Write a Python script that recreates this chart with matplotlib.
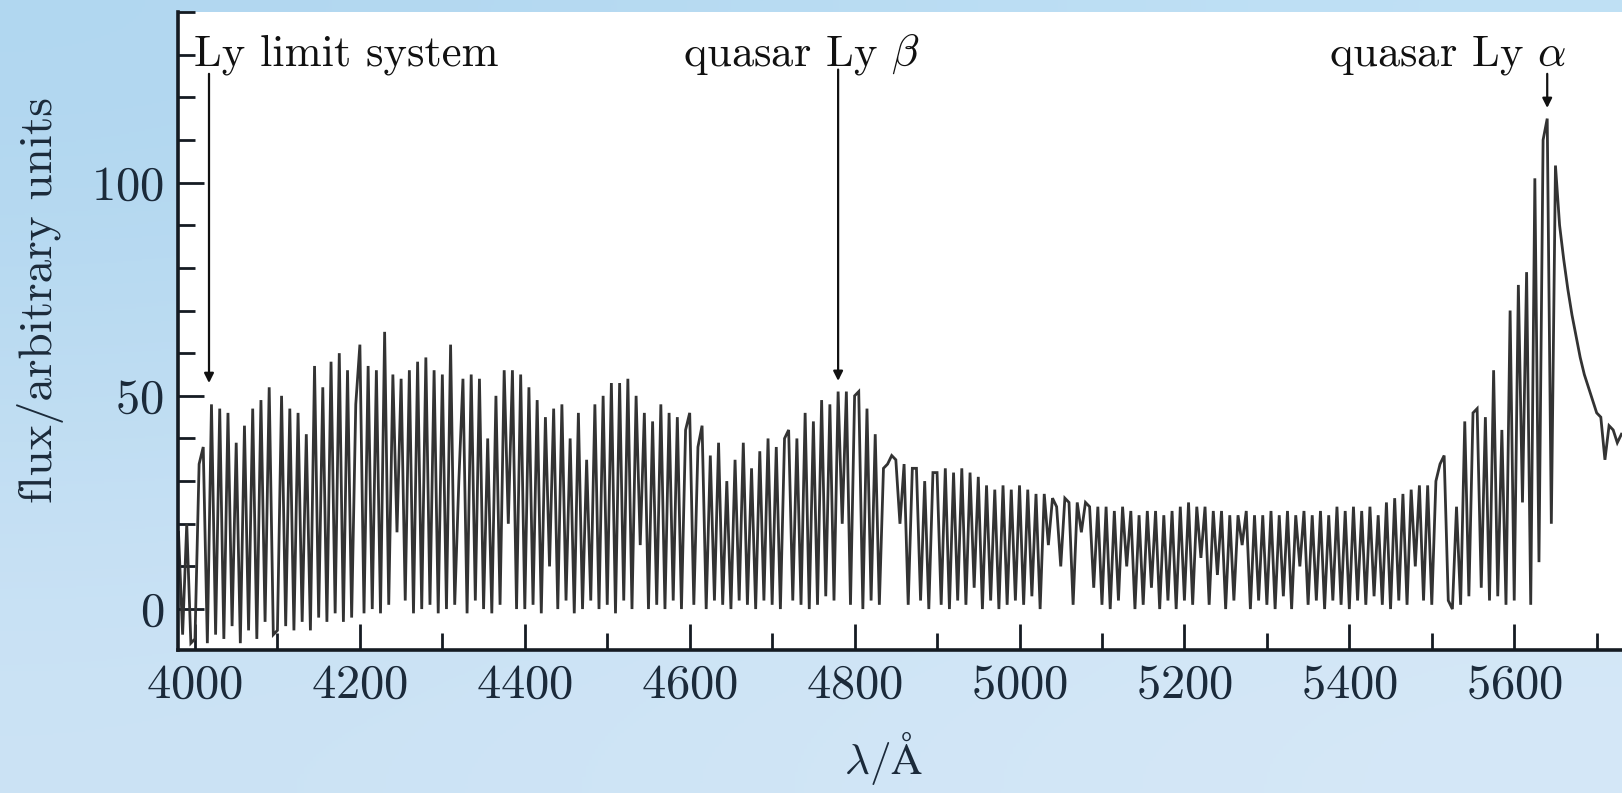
import numpy as np
import matplotlib
matplotlib.use("Agg")
import matplotlib.pyplot as plt
from matplotlib.ticker import MultipleLocator

plt.rcParams['font.family'] = ['cmr10', 'DejaVu Serif']
plt.rcParams['mathtext.fontset'] = 'cm'
plt.rcParams['axes.formatter.use_mathtext'] = True

wave_start = 3980
wave_step = 5
flux = [
    18, -6, 20, -8,                                                            # 3980-3995
    -7, 34, 38, -8, 48, -6, 47, -7, 46, -4, 39, -8, 43, -5, 47, -7, 49, -3, 52, -6,   # 4000
    -5, 50, -4, 47, -5, 46, -3, 41, -5, 57, -2, 52, -3, 58, -1, 60, -3, 56, -2, 48,   # 4100
    62, -1, 57, 0, 56, -1, 65, 1, 55, 18, 54, 2, 56, -1, 58, 0, 59, 1, 56, -1,       # 4200
    55, 0, 62, 1, 30, 54, -1, 55, 2, 54, 0, 40, -1, 50, 1, 56, 20, 56, 0, 55,        # 4300
    0, 52, 1, 49, -1, 45, 10, 47, 0, 48, 2, 40, -1, 46, 0, 35, 2, 48, 0, 50,         # 4400
    1, 53, -1, 53, 2, 54, 0, 50, 15, 46, 0, 44, 1, 48, 0, 46, 2, 45, 0, 42,          # 4500
    46, 1, 38, 43, 0, 36, 2, 39, 1, 30, 0, 35, 2, 39, 1, 33, 0, 37, 2, 40,           # 4600
    1, 38, 0, 40, 42, 2, 40, 1, 46, 0, 44, 1, 49, 3, 48, 2, 51, 20, 51, 1,           # 4700
    50, 51, 0, 47, 2, 41, 1, 33, 34, 36, 35, 20, 34, 1, 33, 33, 2, 30, 0, 32,        # 4800
    32, 1, 33, 0, 32, 2, 33, 1, 32, 5, 31, 0, 29, 2, 28, 0, 29, 1, 28, 2,            # 4900
    29, 1, 28, 3, 27, 0, 27, 15, 26, 24, 10, 26, 25, 1, 25, 18, 25, 24, 5, 24,       # 5000
    1, 24, 0, 23, 2, 24, 10, 23, 0, 22, 1, 23, 5, 23, 0, 22, 2, 23, 0, 24,           # 5100
    2, 25, 1, 24, 12, 24, 1, 23, 8, 23, 0, 22, 2, 22, 15, 23, 0, 22, 2, 22,          # 5200
    1, 23, 0, 22, 3, 23, 0, 22, 10, 23, 1, 22, 2, 23, 0, 22, 2, 24, 1, 23,           # 5300
    0, 24, 2, 23, 1, 24, 3, 22, 1, 25, 0, 26, 2, 27, 1, 28, 10, 29, 2, 29,           # 5400
    1, 30, 34, 36, 2, 0, 24, 1, 44, 3, 46, 47, 5, 45, 2, 56, 3, 42, 1, 70,           # 5500
    2, 76, 25, 79, 1, 101, 11, 110, 115, 20, 104, 90, 82, 75, 69, 64, 59, 55, 52, 49, # 5600
    46, 45, 35, 43, 42, 39, 41,                                                # 5700-5730
]
wave = wave_start + wave_step * np.arange(len(flux))

labels = ["Ly limit system", r"quasar Ly $\beta$", r"quasar Ly $\alpha$"]
label_x = [3999, 4592, 5375]
arrow_x = [4017, 4780, 5640]
arrow_top = [125.5, 126.5, 125.5]
arrow_tip = [53, 53.5, 117.5]

W, H = 1622, 793
fig = plt.figure(figsize=(W / 100, H / 100), dpi=100)

# light blue page background
bg = fig.add_axes([0, 0, 1, 1], zorder=-10)
grad = np.array([[[0.69, 0.84, 0.94], [0.75, 0.88, 0.96]],
                 [[0.80, 0.89, 0.96], [0.84, 0.91, 0.97]]])
bg.imshow(grad, aspect='auto', interpolation='bicubic', extent=[0, 1, 0, 1])
bg.axis('off')

ax = fig.add_axes([178 / W, 143 / H, 1444 / W, 638 / H])
ax.set_facecolor('white')
ax.plot(wave, flux, color='#333333', lw=2.0, solid_joinstyle='miter')

ax.set_xlim(3979.4, 5730.7)
ax.set_ylim(-9.6, 140)

ax.spines['top'].set_visible(False)
ax.spines['right'].set_visible(False)
for s in ['left', 'bottom']:
    ax.spines[s].set_linewidth(2.6)
    ax.spines[s].set_color('#151b22')

ax.xaxis.set_major_locator(MultipleLocator(200))
ax.xaxis.set_minor_locator(MultipleLocator(100))
ax.yaxis.set_major_locator(MultipleLocator(50))
ax.yaxis.set_minor_locator(MultipleLocator(10))
ax.tick_params(which='major', direction='in', length=19, width=2, color='#151b22',
               labelsize=35, labelcolor='#1b2a3a', pad=10)
ax.tick_params(which='minor', direction='in', length=12.5, width=2, color='#151b22')

for txt, lx, axx, top, tip in zip(labels, label_x, arrow_x, arrow_top, arrow_tip):
    ax.text(lx, 127.5, txt, fontsize=32, ha='left', va='baseline', color='#111111')
    ax.annotate('', xy=(axx, tip), xytext=(axx, top),
                arrowprops=dict(arrowstyle='-|>', lw=1.6, color='#111111',
                                mutation_scale=14, shrinkA=0, shrinkB=0))

fig.text(41 / W, 1 - 300 / H, 'flux/arbitrary units', rotation=90, fontsize=34,
         ha='center', va='center', color='#1b2a3a')
fig.text(884 / W, 6 / H, r'$\lambda/\mathrm{\AA}$', fontsize=31,
         ha='center', va='bottom', color='#1b2a3a')

fig.savefig('out.png', dpi=100)
